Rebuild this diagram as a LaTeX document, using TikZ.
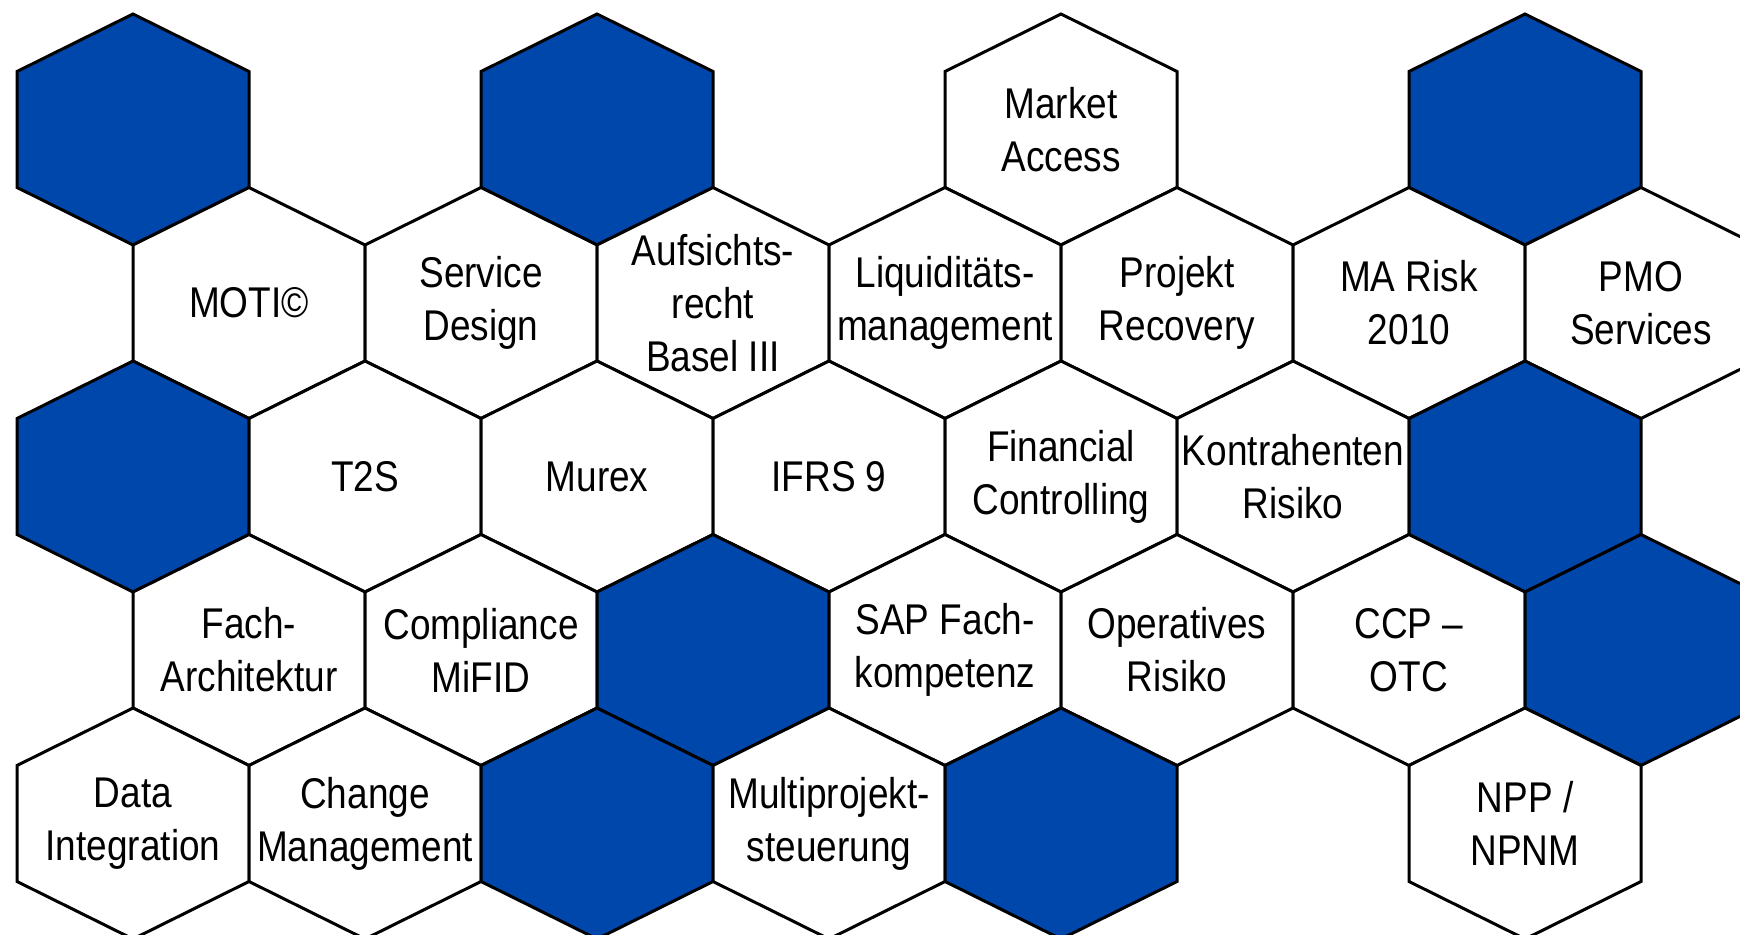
\documentclass[tikz,border=0pt]{standalone}
\usepackage{fontspec}
\setmainfont{Liberation Sans}[FakeStretch=0.86]
\usepackage{tikz}
\usetikzlibrary{positioning, calc}
\definecolor{hexblue}{HTML}{0047AB}
\definecolor{hexedge}{HTML}{000000}

\begin{document}
\begin{tikzpicture}[
    x=0.5pt, y=-0.5pt,
    hexline/.style={draw=hexedge, line width=1.5pt, fill=#1},
    hexline/.default=white,
    hextext/.style={align=center, inner sep=0pt, text=black, font=\fontsize{21.5}{26.5}\selectfont}
]
\clip (0,0) rectangle (1740,935);

% honeycomb: column / row / fill / label
\foreach \nm/\col/\row/\shade/\txt in {
    blueA/0/0/hexblue/{}, blueB/4/0/hexblue/{}, market/8/0/white/{Market\\Access}, blueC/12/0/hexblue/{},
    moti/1/1/white/{MOTI©}, service/3/1/white/{Service\\Design}, aufsicht/5/1/white/{Aufsichts-\\recht\\Basel III},
    liquid/7/1/white/{Liquiditäts-\\management}, recovery/9/1/white/{Projekt\\Recovery},
    marisk/11/1/white/{MA Risk\\2010}, pmo/13/1/white/{PMO\\Services},
    blueD/0/2/hexblue/{}, t2s/2/2/white/{T2S}, murex/4/2/white/{Murex}, ifrs/6/2/white/{IFRS 9},
    fincontrol/8/2/white/{Financial\\Controlling}, kontra/10/2/white/{Kontrahenten\\Risiko}, blueE/12/2/hexblue/{},
    facharch/1/3/white/{Fach-\\Architektur}, compliance/3/3/white/{Compliance\\MiFID}, blueF/5/3/hexblue/{},
    sapfach/7/3/white/{SAP Fach-\\kompetenz}, oprisk/9/3/white/{Operatives\\Risiko}, ccp/11/3/white/{CCP –\\OTC},
    blueG/13/3/hexblue/{},
    dataint/0/4/white/{Data\\Integration}, change/2/4/white/{Change\\Management}, blueH/4/4/hexblue/{},
    multiproj/6/4/white/{Multiprojekt-\\steuerung}, blueI/8/4/hexblue/{}, npp/12/4/white/{NPP /\\NPNM}}
{
    \draw[hexline=\shade] ({133+116*\col},{129.5+173.5*\row}) coordinate (\nm-c)
        +(0,-115.5) -- +(116,-58) -- +(116,58) -- +(0,115.5) -- +(-116,58) -- +(-116,-58) -- cycle;
    \node[hextext] (\nm) at (\nm-c) {\txt};
}

\end{tikzpicture}
\end{document}
